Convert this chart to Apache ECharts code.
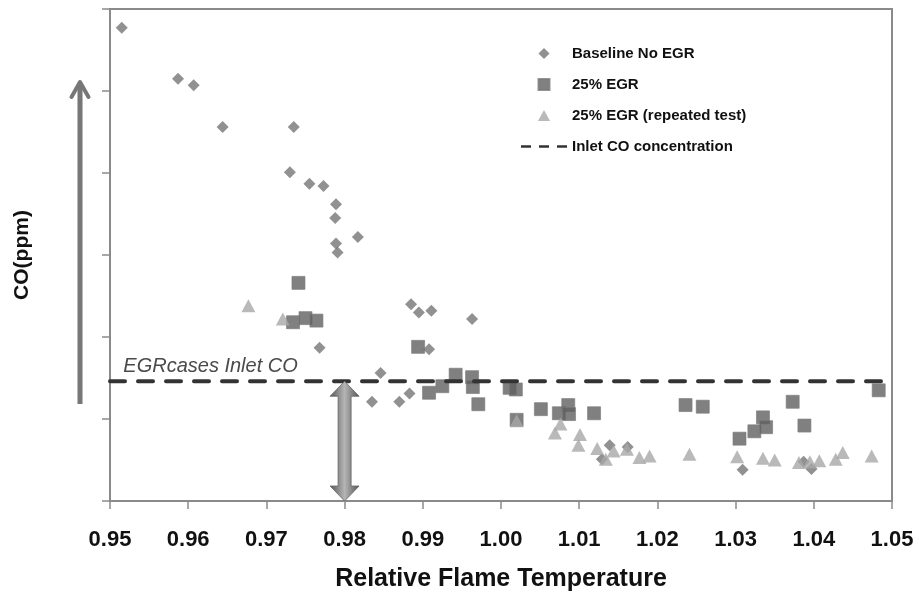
<!DOCTYPE html>
<html>
<head>
<meta charset="utf-8">
<script src="https://cdn.jsdelivr.net/npm/echarts@6.0.0/dist/echarts.min.js"></script>
<style>
  html, body { margin: 0; padding: 0; background: #fff; }
  #main { width: 919px; height: 592px; }
</style>
</head>
<body>
<div id="main"></div>
<script>
// series names (legend order)
const seriesNames = ["Baseline No EGR", "25% EGR", "25% EGR (repeated test)", "Inlet CO concentration"];

// x tick range
const xTicks = [0.95, 0.96, 0.97, 0.98, 0.99, 1.00, 1.01, 1.02, 1.03, 1.04, 1.05];

// Baseline No EGR
const baseX = [0.9515, 0.9587, 0.9607, 0.9644, 0.9735, 0.9730, 0.9755, 0.9773, 0.9789, 0.9788,
  0.9817, 0.9789, 0.9791, 0.9768, 0.9846, 0.9835, 0.9870, 0.9883, 0.9885, 0.9895,
  0.9911, 0.9963, 0.9908, 1.0139, 1.0129, 1.0162, 1.0309, 1.0387, 1.0397];
const baseY = [577, 515, 507, 456, 456, 401, 387, 384, 362, 345,
  322, 314, 303, 187, 156, 121, 121, 131, 240, 230,
  232, 222, 185, 68, 51, 66, 38, 48, 39];

// 25% EGR
const egrX = [0.9741, 0.9734, 0.9750, 0.9764, 0.9894, 0.9942, 0.9963, 0.9964, 0.9925, 0.9908,
  0.9971, 1.0011, 1.0019, 1.0020, 1.0051, 1.0074, 1.0086, 1.0087, 1.0119, 1.0236,
  1.0258, 1.0305, 1.0324, 1.0335, 1.0339, 1.0373, 1.0388, 1.0483];
const egrY = [266, 218, 223, 220, 188, 154, 151, 139, 140, 132,
  118, 138, 136, 99, 112, 107, 117, 106, 107, 117,
  115, 76, 85, 102, 90, 121, 92, 135];

// 25% EGR (repeated test)
const repX = [0.9677, 0.9721, 1.0020, 1.0076, 1.0069, 1.0101, 1.0099, 1.0123, 1.0144, 1.0134,
  1.0161, 1.0177, 1.0190, 1.0241, 1.0302, 1.0335, 1.0350, 1.0381, 1.0395, 1.0407,
  1.0428, 1.0437, 1.0474];
const repY = [238, 222, 98, 94, 83, 81, 68, 64, 61, 51,
  63, 53, 55, 57, 54, 52, 50, 47, 48, 49,
  51, 59, 55];

// inlet CO level (same units as y)
const inletCO = 146;
const inletLabel = "EGRcases Inlet CO";
const arrowAtX = 0.98;

const zip = (xs, ys) => xs.map((x, i) => [x, ys[i]]);

// legend icons as paths so they keep their aspect inside the wide legend slot
const icons = {
  diamond: "path://M0,-1L1,0L0,1L-1,0Z",
  square: "path://M0,0H1V1H0Z",
  triangle: "path://M0,-1L1.1,1H-1.1Z",
  dash: "path://M0,0H10V2.5H0ZM18,0H28V2.5H18ZM36,0H46V2.5H36Z",
};

var chart = echarts.init(document.getElementById("main"));
var option;

option = {
  animation: false,
  textStyle: { fontFamily: "Liberation Sans, Arial, sans-serif" },
  grid: {
    left: 110,
    right: 27,
    top: 9,
    bottom: 91,
    outerBoundsMode: "none",
    containLabel: false,
    show: true,
    borderColor: "#8a8a8a",
    borderWidth: 2,
  },
  legend: {
    orient: "vertical",
    left: 521,
    top: 46,
    padding: 0,
    itemWidth: 46,
    itemHeight: 11,
    itemGap: 16,
    symbolKeepAspect: true,
    textStyle: { fontSize: 15, fontWeight: "bold", color: "#111" },
    data: [
      { name: seriesNames[0], icon: icons.diamond },
      { name: seriesNames[1], icon: icons.square },
      { name: seriesNames[2], icon: icons.triangle },
      { name: seriesNames[3], icon: icons.dash },
    ],
  },
  xAxis: {
    type: "value",
    min: xTicks[0],
    max: xTicks[xTicks.length - 1],
    interval: 0.01,
    name: "Relative Flame Temperature",
    nameLocation: "middle",
    nameGap: 66,
    nameTextStyle: { fontSize: 25, fontWeight: "bold", color: "#111" },
    axisLine: { lineStyle: { color: "#8a8a8a", width: 2 } },
    axisTick: { show: true, length: 8, lineStyle: { color: "#8a8a8a", width: 1.5 } },
    axisLabel: {
      margin: 28,
      fontSize: 22,
      fontWeight: "bold",
      color: "#111",
      formatter: (v) => v.toFixed(2),
    },
    splitLine: { show: false },
  },
  yAxis: {
    type: "value",
    min: 0,
    max: 600,
    interval: 100,
    name: "CO(ppm)",
    nameLocation: "middle",
    nameGap: 77,
    nameTextStyle: { fontSize: 21, fontWeight: "bold", color: "#111" },
    axisLine: { show: true, lineStyle: { color: "#8a8a8a", width: 2 } },
    axisTick: { show: true, length: 8, lineStyle: { color: "#8a8a8a", width: 1.5 } },
    axisLabel: { show: false },
    splitLine: { show: false },
  },
  series: [
    {
      name: seriesNames[0],
      type: "scatter",
      symbol: "diamond",
      symbolSize: 12,
      itemStyle: { color: "#767676" },
      data: zip(baseX, baseY),
      z: 2,
    },
    {
      name: seriesNames[1],
      type: "scatter",
      symbol: "rect",
      symbolSize: 13,
      itemStyle: { color: "#606060", borderColor: "#7a7a7a", borderWidth: 0.8 },
      data: zip(egrX, egrY),
      z: 3,
    },
    {
      name: seriesNames[2],
      type: "scatter",
      symbol: "triangle",
      symbolSize: [14, 13],
      itemStyle: { color: "#a8a8a8" },
      data: zip(repX, repY),
      z: 4,
    },
    {
      name: seriesNames[3],
      type: "line",
      symbol: "none",
      lineStyle: { color: "#333", width: 4, type: [15, 13], cap: "round" },
      itemStyle: { color: "#333" },
      data: [[xTicks[0], inletCO], [xTicks[xTicks.length - 1], inletCO]],
      z: 5,
    },
  ],
};

option && chart.setOption(option);

// annotations placed through the axes
const arrTop = chart.convertToPixel({ gridIndex: 0 }, [arrowAtX, inletCO]);
const arrBot = chart.convertToPixel({ gridIndex: 0 }, [arrowAtX, 0]);
const labPos = chart.convertToPixel({ gridIndex: 0 }, [0.9517, inletCO]);
const cx = arrTop[0];
const head = 15, hw = 14.5, sw = 6.5;

chart.setOption({
  graphic: [
    {
      type: "polygon",
      z: 10,
      shape: {
        points: [
          [cx, arrTop[1]],
          [cx + hw, arrTop[1] + head],
          [cx + sw, arrTop[1] + head],
          [cx + sw, arrBot[1] - head],
          [cx + hw, arrBot[1] - head],
          [cx, arrBot[1]],
          [cx - hw, arrBot[1] - head],
          [cx - sw, arrBot[1] - head],
          [cx - sw, arrTop[1] + head],
          [cx - hw, arrTop[1] + head],
        ],
      },
      style: {
        fill: {
          type: "linear", x: 0, y: 0, x2: 1, y2: 0,
          colorStops: [
            { offset: 0, color: "#555" },
            { offset: 0.5, color: "#b5b5b5" },
            { offset: 1, color: "#555" },
          ],
        },
        stroke: "#666",
        lineWidth: 0.8,
      },
    },
    {
      type: "text",
      z: 10,
      x: labPos[0],
      y: labPos[1] - 15,
      style: {
        text: inletLabel,
        font: 'italic 20px "Liberation Sans", Arial, sans-serif',
        fill: "#4a4a4a",
        verticalAlign: "middle",
        align: "left",
      },
    },
    // left "increase" arrow outside the plot
    {
      type: "line",
      shape: { x1: 80, y1: 404, x2: 80, y2: 84 },
      style: { stroke: "#777", lineWidth: 5 },
    },
    {
      type: "polyline",
      shape: { points: [[71.5, 97], [80, 82], [88.5, 97]] },
      style: { stroke: "#777", lineWidth: 4, lineCap: "round", lineJoin: "round", fill: null },
    },
  ],
});
</script>
</body>
</html>
